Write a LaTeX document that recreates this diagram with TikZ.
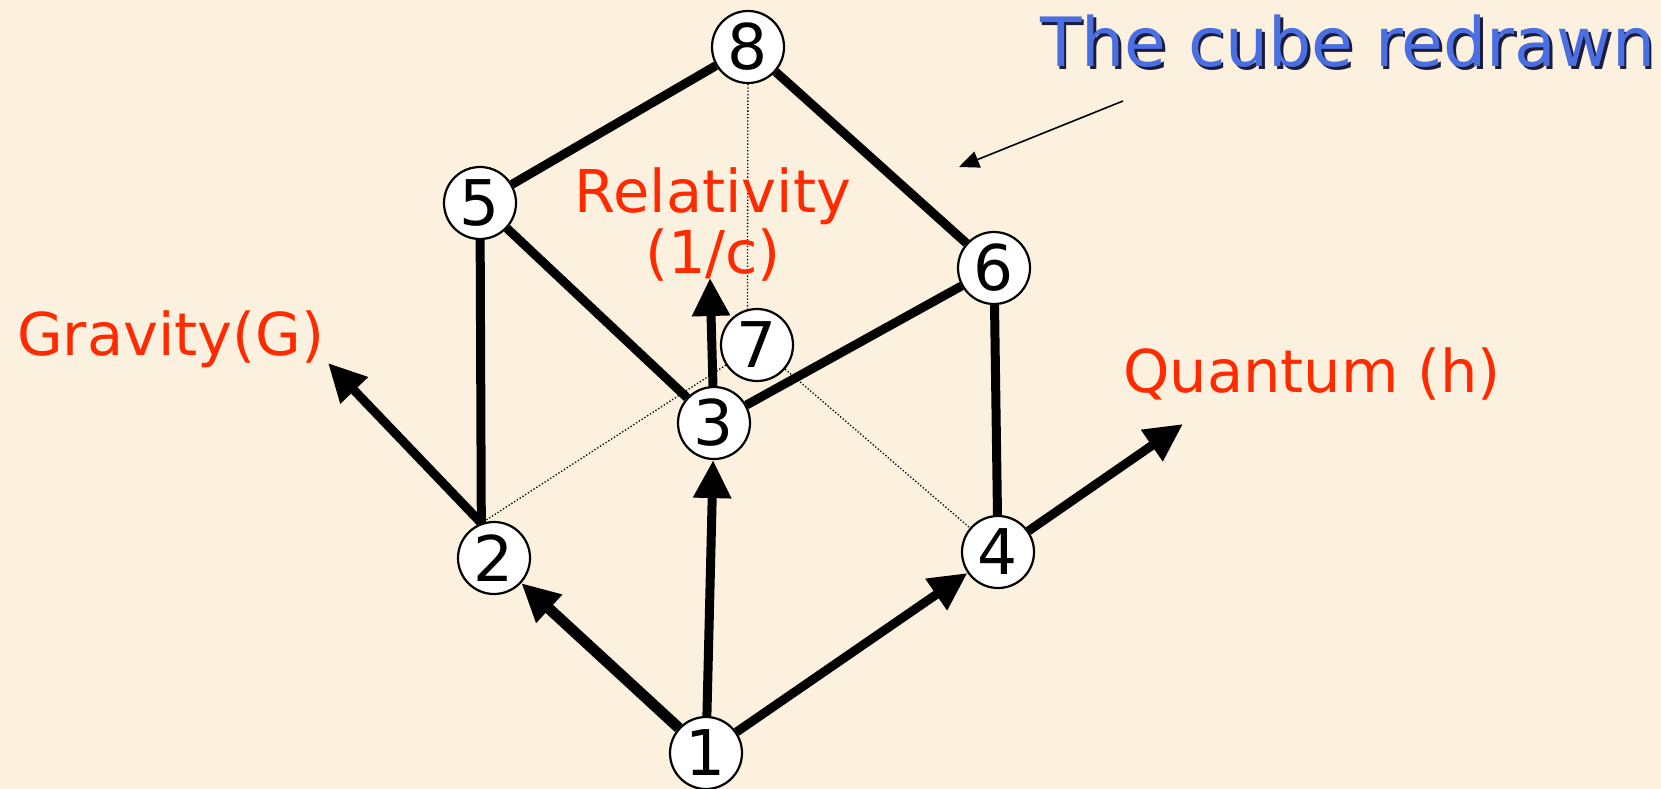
\documentclass[tikz,border=0pt]{standalone}
\usepackage{fontspec}
\setmainfont{DejaVu Sans}
\usetikzlibrary{arrows.meta}
\definecolor{bg}{HTML}{FBF1DE}
\definecolor{lab}{HTML}{FF2A00}
\definecolor{ttl}{HTML}{4A6FE3}
\definecolor{shd}{HTML}{1C1C3A}
\begin{document}
\begin{tikzpicture}[x=1pt,y=-1pt,
  vtx/.style={circle,draw=black,line width=2.2pt,fill=white,minimum size=72pt,inner sep=0pt,font=\fontsize{63}{65}\selectfont},
  edge/.style={line width=9pt},
  axis/.style={line width=9pt,-{Triangle[length=38pt,width=36pt]}},
  hidden/.style={line width=1.3pt,dash pattern=on 1.3pt off 2pt},
  lbl/.style={text=lab,inner sep=0pt,font=\fontsize{59}{61}\selectfont},
  ttlsty/.style={inner sep=0pt,anchor=base west,font=\fontsize{68}{70}\selectfont},
  pointer/.style={line width=1.6pt,-{Triangle[length=20pt,width=17pt]}}
]
\fill[bg] (0,0) rectangle (1661,789);
\useasboundingbox (0,0) rectangle (1661,789);

\node[vtx] (n8) at (748,47) {8};
\node[vtx] (n5) at (480,203) {5};
\node[vtx] (n6) at (994,268) {6};
\node[vtx] (n7) at (757,345) {7};
\node[vtx] (n3) at (714,423) {3};
\node[vtx] (n2) at (494,558) {2};
\node[vtx] (n4) at (998,552) {4};
\node[vtx] (n1) at (706,753) {1};

\coordinate (gtip) at (328,363);
\coordinate (rtip) at (710,278);
\coordinate (qtip) at (1183,424);
\coordinate (pstart) at (1123,101);
\coordinate (pend) at (959,167);

% hidden edges
\draw[hidden] (n8) -- (n7.105);
\draw[hidden] (n7) -- (n2.110);
\draw[hidden] (n7) -- (n4);

% visible edges
\draw[edge] (n8) -- (n5);
\draw[edge] (n8) -- (n6);
\draw[edge] (n5) -- (n3);
\draw[edge] (n5) -- (n2.110);
\draw[edge] (n6) -- (n3);
\draw[edge] (n6) -- (n4);

% axes
\draw[axis,line width=11pt] (n1) -- (n2);
\draw[axis] (n1) -- (n3);
\draw[axis] (n1) -- (n4);
\draw[axis] (n2.110) -- (gtip);
\draw[axis] (n3) -- (rtip);
\draw[axis] (n4) -- (qtip);

% labels
\node[lbl,anchor=base west] (grav) at (17,355) {Gravity(G)};
\node[lbl,anchor=base] (rel) at (713,212) {Relativity};
\node[lbl,anchor=base] (relc) at (713,273) {(1/c)};
\node[lbl,anchor=base west] (quant) at (1123,392) {Quantum (h)};

% title
\node[ttlsty,text=shd] (ttlshadow) at (1042.5,69.5) {The cube redrawn};
\node[ttlsty,text=ttl] (ttl) at (1040,67) {The cube redrawn};
\draw[pointer] (pstart) -- (pend);
\end{tikzpicture}
\end{document}
